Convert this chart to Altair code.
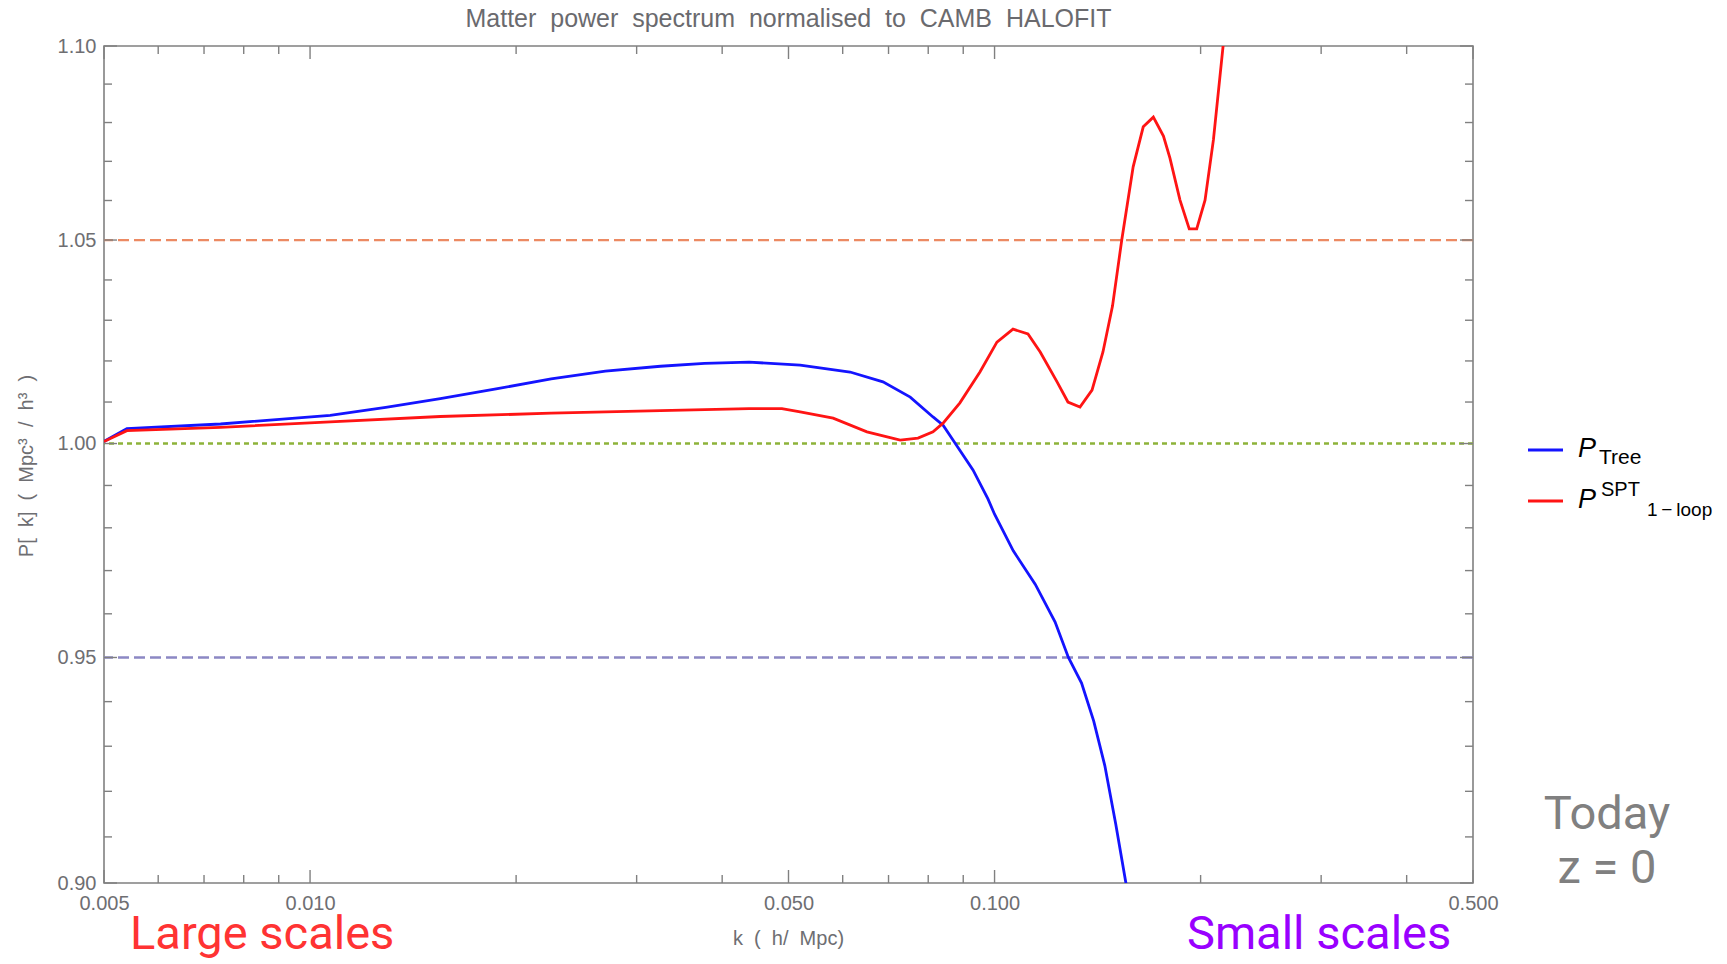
import altair as alt
import pandas as pd

# ---------------- data ----------------
k_tree = [0.005, 0.0054, 0.0074, 0.0107, 0.0129, 0.0155, 0.0187, 0.0225, 0.0270, 0.0325,
          0.0377, 0.0438, 0.0520, 0.0615, 0.0687, 0.0753, 0.0813, 0.0841, 0.0870, 0.0930,
          0.0978, 0.1000, 0.1065, 0.1147, 0.1226, 0.1282, 0.1340, 0.1396, 0.1449, 0.1503,
          0.1554, 0.1601]
p_tree = [1.0005, 1.0036, 1.0047, 1.0068, 1.0087, 1.0108, 1.0132, 1.0156, 1.0175, 1.0187,
          1.0194, 1.0197, 1.0190, 1.0173, 1.0149, 1.0112, 1.0064, 1.0044, 1.0008, 0.9937,
          0.9868, 0.9832, 0.9746, 0.9668, 0.9581, 0.9500, 0.9442, 0.9356, 0.9257, 0.9129,
          0.9004, 0.8886]

k_loop = [0.005, 0.0054, 0.0074, 0.0107, 0.0155, 0.0225, 0.0325, 0.0438, 0.0489, 0.0520,
          0.0581, 0.0651, 0.0728, 0.0773, 0.0813, 0.0841, 0.0890, 0.0952, 0.1008, 0.1064,
          0.1119, 0.1166, 0.1234, 0.1280, 0.1333, 0.1388, 0.1440, 0.1487, 0.1534, 0.1594,
          0.1649, 0.1706, 0.1765, 0.1804, 0.1866, 0.1925, 0.1974, 0.2030, 0.2088, 0.2158,
          0.2180]
p_loop = [1.0005, 1.0031, 1.0039, 1.0052, 1.0065, 1.0073, 1.0079, 1.0084, 1.0084, 1.0076,
          1.0061, 1.0028, 1.0008, 1.0013, 1.0028, 1.0049, 1.0098, 1.0173, 1.0246, 1.0278,
          1.0266, 1.0222, 1.0149, 1.0100, 1.0088, 1.0129, 1.0222, 1.0335, 1.0500, 1.0686,
          1.0789, 1.0814, 1.0765, 1.0708, 1.0601, 1.0528, 1.0528, 1.0601, 1.0755, 1.1003,
          1.1080]

ref_levels = [1.05, 1.00, 0.95]

x_major = [0.005, 0.01, 0.05, 0.1, 0.5]
x_minor = [0.006, 0.007, 0.008, 0.009, 0.02, 0.03, 0.04, 0.06, 0.07, 0.08, 0.09, 0.2, 0.3, 0.4]
y_major = [0.90, 0.95, 1.00, 1.05, 1.10]
y_minor = [0.91, 0.92, 0.93, 0.94, 0.96, 0.97, 0.98, 0.99,
           1.01, 1.02, 1.03, 1.04, 1.06, 1.07, 1.08, 1.09]

S2 = "\u00a0\u00a0"
title_text = S2.join(["Matter", "power", "spectrum", "normalised", "to", "CAMB", "HALOFIT"])
x_title = "k" + S2 + "(" + S2 + "h/" + S2 + "Mpc)"
y_title = "P[" + S2 + "k]" + S2 + "(" + S2 + "Mpc\u00b3" + S2 + "/" + S2 + "h\u00b3" + S2 + ")"
legend_main = ["P", "P"]
legend_sub = ["Tree", "1\u2009\u2212\u2009loop"]
legend_sup = ["SPT"]
note_left = ["Large scales"]
note_right = ["Small scales"]
note_corner = ["Today", "z = 0"]

# ---------------- layout ----------------
W, H = 1369, 837
GRAY = "#808080"
LABEL = "#6e6e72"
FONT = "Liberation Sans"

xs = alt.Scale(type="log", domain=[0.005, 0.5], nice=False)
ys = alt.Scale(type="log", domain=[0.9, 1.1], nice=False, zero=False)
xa = alt.Axis(values=x_major, format=".3f", title=None, ticks=False, tickSize=0, domain=False,
              grid=False, labelPadding=10, labelFlush=False, labelOverlap=False,
              labelFontSize=20, labelFont=FONT, labelColor=LABEL)
ya = alt.Axis(values=y_major, format=".2f", title=None, ticks=False, tickSize=0, domain=False,
              grid=False, labelPadding=8, labelFlush=False, labelOverlap=False,
              labelFontSize=20, labelFont=FONT, labelColor=LABEL)

X = alt.X("k:Q", scale=xs, axis=xa)
Y = alt.Y("v:Q", scale=ys, axis=ya)

tree_df = pd.DataFrame({"k": k_tree, "v": p_tree})
loop_df = pd.DataFrame({"k": k_loop, "v": p_loop})

tree = alt.Chart(tree_df).mark_line(color="#1414ff", strokeWidth=2.8, clip=True).encode(x=X, y=Y)
loop = alt.Chart(loop_df).mark_line(color="#ff1414", strokeWidth=2.8, clip=True).encode(x=X, y=Y)

ref_df = pd.DataFrame({"v": ref_levels})
ref_orange = alt.Chart(ref_df.iloc[[0]]).mark_rule(color="#ec8a63", strokeWidth=2.3,
                                                   strokeDash=[11, 5]).encode(y=Y)
ref_green = alt.Chart(ref_df.iloc[[1]]).mark_rule(color="#8db33a", strokeWidth=2.6,
                                                  strokeDash=[5, 4]).encode(y=Y)
ref_purple = alt.Chart(ref_df.iloc[[2]]).mark_rule(color="#8c88c4", strokeWidth=2.3,
                                                   strokeDash=[11, 5]).encode(y=Y)

xmaj = pd.DataFrame({"k": x_major})
xmin = pd.DataFrame({"k": x_minor})
ymaj = pd.DataFrame({"v": y_major})
ymin = pd.DataFrame({"v": y_minor})
MAJ, MIN = 13, 8
tk = dict(color=GRAY, strokeWidth=1.4)
ticks = [
    alt.Chart(xmaj).mark_rule(**tk).encode(x=X, y=alt.value(H), y2=alt.value(H - MAJ)),
    alt.Chart(xmin).mark_rule(**tk).encode(x=X, y=alt.value(H), y2=alt.value(H - MIN)),
    alt.Chart(xmaj).mark_rule(**tk).encode(x=X, y=alt.value(0), y2=alt.value(MAJ)),
    alt.Chart(xmin).mark_rule(**tk).encode(x=X, y=alt.value(0), y2=alt.value(MIN)),
    alt.Chart(ymaj).mark_rule(**tk).encode(y=Y, x=alt.value(0), x2=alt.value(MAJ)),
    alt.Chart(ymin).mark_rule(**tk).encode(y=Y, x=alt.value(0), x2=alt.value(MIN)),
    alt.Chart(ymaj).mark_rule(**tk).encode(y=Y, x=alt.value(W), x2=alt.value(W - MAJ)),
    alt.Chart(ymin).mark_rule(**tk).encode(y=Y, x=alt.value(W), x2=alt.value(W - MIN)),
]

one = pd.DataFrame({"t": [title_text]})
title = alt.Chart(one).mark_text(font=FONT, fontSize=25, color="#6a6a6e", align="center",
                                 baseline="alphabetic").encode(
    x=alt.value(W / 2), y=alt.value(-19), text="t:N")
xt = alt.Chart(pd.DataFrame({"t": [x_title]})).mark_text(
    font=FONT, fontSize=20, color=LABEL, align="center", baseline="alphabetic").encode(
    x=alt.value(W / 2), y=alt.value(899), text="t:N")
yt = alt.Chart(pd.DataFrame({"t": [y_title]})).mark_text(
    font=FONT, fontSize=20, color=LABEL, align="center", baseline="middle", angle=270).encode(
    x=alt.value(-77), y=alt.value(420), text="t:N")

# legend drawn by hand
leg_line_blue = alt.Chart(one).mark_rule(color="#1414ff", strokeWidth=2.8).encode(
    x=alt.value(1424), x2=alt.value(1459), y=alt.value(404))
leg_line_red = alt.Chart(one).mark_rule(color="#ff1414", strokeWidth=2.8).encode(
    x=alt.value(1424), x2=alt.value(1459), y=alt.value(455))
leg_p1 = alt.Chart(pd.DataFrame({"t": [legend_main[0]]})).mark_text(
    font=FONT, fontSize=27, fontStyle="italic", color="black", align="left",
    baseline="alphabetic").encode(x=alt.value(1474), y=alt.value(411), text="t:N")
leg_p2 = alt.Chart(pd.DataFrame({"t": [legend_main[1]]})).mark_text(
    font=FONT, fontSize=27, fontStyle="italic", color="black", align="left",
    baseline="alphabetic").encode(x=alt.value(1474), y=alt.value(462), text="t:N")
leg_sub1 = alt.Chart(pd.DataFrame({"t": [legend_sub[0]]})).mark_text(
    font=FONT, fontSize=21, color="black", align="left", baseline="alphabetic").encode(
    x=alt.value(1495), y=alt.value(418), text="t:N")
leg_sup2 = alt.Chart(pd.DataFrame({"t": legend_sup})).mark_text(
    font=FONT, fontSize=20, color="black", align="left", baseline="alphabetic").encode(
    x=alt.value(1497), y=alt.value(450), text="t:N")
leg_sub2 = alt.Chart(pd.DataFrame({"t": [legend_sub[1]]})).mark_text(
    font=FONT, fontSize=19, color="black", align="left", baseline="alphabetic").encode(
    x=alt.value(1543), y=alt.value(470), text="t:N")

NOTE_FONT = "Roboto"
n_left = alt.Chart(pd.DataFrame({"t": note_left})).mark_text(
    font=NOTE_FONT, fontSize=47, color="#ff3333", align="left", baseline="alphabetic").encode(
    x=alt.value(26), y=alt.value(903), text="t:N")
n_right = alt.Chart(pd.DataFrame({"t": note_right})).mark_text(
    font=NOTE_FONT, fontSize=47, color="#9900ff", align="left", baseline="alphabetic").encode(
    x=alt.value(1083), y=alt.value(903), text="t:N")
n_today = alt.Chart(pd.DataFrame({"t": [note_corner[0]]})).mark_text(
    font=NOTE_FONT, fontSize=47, color=GRAY, align="center", baseline="alphabetic").encode(
    x=alt.value(1503), y=alt.value(783), text="t:N")
n_z = alt.Chart(pd.DataFrame({"t": [note_corner[1]]})).mark_text(
    font=NOTE_FONT, fontSize=47, color=GRAY, align="center", baseline="alphabetic").encode(
    x=alt.value(1503), y=alt.value(837), text="t:N")

chart = alt.layer(
    ref_orange, ref_green, ref_purple, *ticks, tree, loop,
    title, xt, yt,
    leg_line_blue, leg_line_red, leg_p1, leg_p2, leg_sub1, leg_sup2, leg_sub2,
    n_left, n_right, n_today, n_z,
).properties(
    width=W, height=H,
    autosize=alt.AutoSizeParams(type="none"),
    padding={"left": 104, "top": 46, "right": 254, "bottom": 81},
    background="white",
).configure_view(stroke=GRAY, strokeWidth=1.6)

chart.save("out.html", embed_options={"renderer": "svg", "actions": False})
